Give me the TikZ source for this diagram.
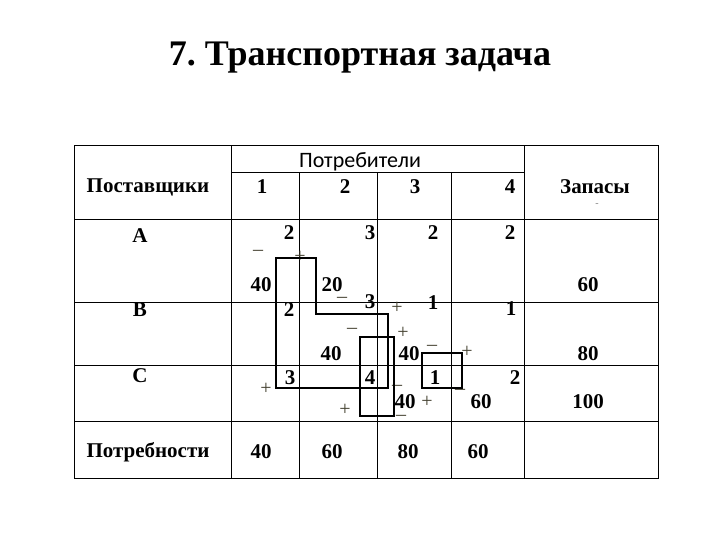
\documentclass[tikz,border=0pt]{standalone}
\usepackage{fontspec}
\setmainfont{Liberation Serif}
\newfontfamily\hdrsans{Carlito}
\begin{document}
\begin{tikzpicture}[x=1pt,y=-1pt,
  num/.style={font=\fontsize{21}{22}\selectfont\bfseries,inner sep=0pt},
  sgn/.style={font=\fontsize{20}{22}\selectfont,text=black!70!olive,inner sep=0pt},
  grid/.style={line width=1pt},
  loop/.style={line width=2.4pt,line join=miter}]
\useasboundingbox (0,0) rectangle (720,540);
\node[font=\fontsize{36}{40}\selectfont\bfseries] (title) at (360,58) {7.\ Транспортная задача};
% table
\draw[grid] (74,146) rectangle (658,478);
\draw[grid] (231,146) -- (231,478) (524,146) -- (524,478);
\draw[grid] (231,173) -- (524,173);
\draw[grid] (299,173) -- (299,478) (377,173) -- (377,478) (451,173) -- (451,478);
\draw[grid] (74,220) -- (658,220) (74,302) -- (658,302) (74,365) -- (658,365) (74,421) -- (658,421);
% header
\node[num] (hS) at (148,187) {Поставщики};
\node[font=\hdrsans\fontsize{22}{24}\selectfont,inner sep=0pt] (hP) at (360,162) {Потребители};
\node[num] (h1) at (262,187) {1};
\node[num] (h2) at (345,187) {2};
\node[num] (h3) at (415,187) {3};
\node[num] (h4) at (510,187) {4};
\node[num] (hZ) at (595,187) {Запасы};
\node[font=\fontsize{10}{10}\selectfont,text=gray,inner sep=0pt] (hm) at (597,205) {-};
% row A
\node[num] (rA) at (140,236) {A};
\node[num] (a1) at (289,233) {2};
\node[num] (a2) at (370,233) {3};
\node[num] (a3) at (433,233) {2};
\node[num] (a4) at (510,233) {2};
\node[num] (x11) at (261,285) {40};
\node[num] (x12) at (332,285) {20};
\node[num] (sA) at (588,285) {60};
% row B
\node[num] (rB) at (140,310) {B};
\node[num] (b1) at (289,310) {2};
\node[num] (b2) at (370,302) {3};
\node[num] (b3) at (433,303) {1};
\node[num] (b4) at (511,309) {1};
\node[num] (x22) at (331,354) {40};
\node[num] (x23) at (409,354) {40};
\node[num] (sB) at (588,354) {80};
% row C
\node[num] (rC) at (140,376) {C};
\node[num] (c1) at (290,378) {3};
\node[num] (c2) at (370,378) {4};
\node[num] (c3) at (435,378) {1};
\node[num] (c4) at (515,378) {2};
\node[num] (x33) at (405,402) {40};
\node[num] (x34) at (481,402) {60};
\node[num] (sC) at (588,402) {100};
% demands
\node[num] (rD) at (148,452) {Потребности};
\node[num] (d1) at (261,452) {40};
\node[num] (d2) at (332,452) {60};
\node[num] (d3) at (408,452) {80};
\node[num] (d4) at (478,452) {60};
% signs
\node[sgn] (m1) at (258,253) {–};
\node[sgn] (p1) at (300,257) {+};
\node[sgn] (m2) at (342,300) {–};
\node[sgn] (p2) at (397,308) {+};
\node[sgn] (m3) at (352,331) {–};
\node[sgn] (p3) at (403,333) {+};
\node[sgn] (m4) at (432,348) {–};
\node[sgn] (p4) at (467,352) {+};
\node[sgn] (p5) at (266,389) {+};
\node[sgn] (m5) at (397,388) {–};
\node[sgn] (p6) at (427,402) {+};
\node[sgn] (m6) at (460,392) {–};
\node[sgn] (p7) at (345,410) {+};
\node[sgn] (m7) at (401,418) {–};
% loops
\draw[loop] (276,258) -- (316,258) -- (316,314) -- (388,314) -- (388,388) -- (276,388) -- cycle;
\draw[loop] (360,337) rectangle (394,416);
\draw[loop] (422,353) rectangle (462,388);
\end{tikzpicture}
\end{document}
